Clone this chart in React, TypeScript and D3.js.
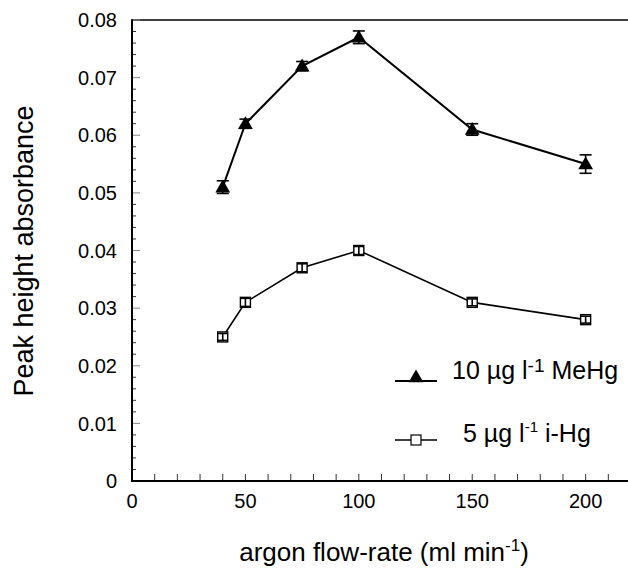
import React from 'react';
import * as d3 from 'd3';

// argon flow-rate (ml/min)
const flowRates = [40, 50, 75, 100, 150, 200];
// 10 ug/l MeHg
const meHg = [0.051, 0.062, 0.072, 0.077, 0.061, 0.055];
const meHgErr = [0.0011, 0.0008, 0.0008, 0.0011, 0.001, 0.0016];
// 5 ug/l i-Hg
const iHg = [0.025, 0.031, 0.037, 0.040, 0.031, 0.028];
const iHgErr = [0.0006, 0.0007, 0.0007, 0.0007, 0.0006, 0.0006];

const xTickLabels = [0, 50, 100, 150, 200];
const yTickLabels = [0, 0.01, 0.02, 0.03, 0.04, 0.05, 0.06, 0.07, 0.08];

const W = 628;
const H = 568;
const margin = { top: 20, right: 0, bottom: 87, left: 132 };
const FONT = '"Liberation Sans", Arial, Helvetica, sans-serif';

export default function App() {
  const x = d3.scaleLinear().domain([0, 220]).range([margin.left, 631]);
  const y = d3.scaleLinear().domain([0, 0.08]).range([H - margin.bottom, margin.top]);

  const line = d3.line<number>()
    .x((_, i) => x(flowRates[i]))
    .y(d => y(d));

  const triangle = d3.symbol().type(d3.symbolTriangle).size(95)()!;

  const xMinor = d3.range(0, 221, 10);
  const yMinor = d3.range(0, 0.0801, 0.002);

  const errBar = (vals: number[], errs: number[], cap: number, key: string) =>
    vals.map((v, i) => {
      const cx = x(flowRates[i]);
      const y1 = y(v + errs[i]);
      const y2 = y(v - errs[i]);
      return (
        <g key={key + i} stroke="#000" strokeWidth={1.6}>
          <line x1={cx} x2={cx} y1={y1} y2={y2} />
          <line x1={cx - cap} x2={cx + cap} y1={y1} y2={y1} />
          <line x1={cx - cap} x2={cx + cap} y1={y2} y2={y2} />
        </g>
      );
    });

  return (
    <svg width={W} height={H} style={{ position: 'absolute', left: 0, top: 0 }} fontFamily={FONT}>
      <rect width={W} height={H} fill="#fff" />

      {/* top frame */}
      <line x1={x(0)} x2={W} y1={y(0.08)} y2={y(0.08)} stroke="#000" strokeWidth={1.5} />

      {/* x ticks */}
      {xMinor.map(t => (
        <line key={'xt' + t} x1={x(t)} x2={x(t)} y1={y(0)} y2={y(0) - 7} stroke="#333" strokeWidth={1} />
      ))}
      {/* y ticks */}
      {yMinor.map((t, i) => (
        <line key={'yt' + i} x1={x(0)} x2={x(0) + (i % 5 === 0 ? 8 : 4)} y1={y(t)} y2={y(t)}
          stroke={i % 5 === 0 ? '#888' : '#333'} strokeWidth={1} />
      ))}

      {/* axes */}
      <line x1={x(0)} x2={W} y1={y(0)} y2={y(0)} stroke="#000" strokeWidth={2} />
      <line x1={x(0)} x2={x(0)} y1={y(0) + 1} y2={y(0.08) - 0.75} stroke="#000" strokeWidth={2} />

      {xTickLabels.map(t => (
        <text key={'xl' + t} x={x(t)} y={508} textAnchor="middle" fontSize={20}>{t}</text>
      ))}
      {yTickLabels.map(t => (
        <text key={'yl' + t} x={117} y={y(t)} dy="0.36em" textAnchor="end" fontSize={20}>{t === 0 ? '0' : t.toFixed(2)}</text>
      ))}

      {/* axis titles */}
      <text x={384} y={561} textAnchor="middle" fontSize={26}>
        argon flow-rate (ml min<tspan dy={-10} fontSize={17}>-1</tspan><tspan dy={10}>)</tspan>
      </text>
      <text transform={`translate(33,251) rotate(-90)`} textAnchor="middle" fontSize={27}>
        Peak height absorbance
      </text>

      {/* series lines */}
      <path d={line(meHg)!} fill="none" stroke="#000" strokeWidth={2} />
      <path d={line(iHg)!} fill="none" stroke="#000" strokeWidth={1.6} />

      {/* MeHg markers */}
      {meHg.map((v, i) => (
        <path key={'tri' + i} d={triangle} transform={`translate(${x(flowRates[i])},${y(v) + 1})`} fill="#000" />
      ))}
      {errBar(meHg, meHgErr, 6, 'em')}

      {/* i-Hg markers */}
      {iHg.map((v, i) => (
        <rect key={'sq' + i} x={x(flowRates[i]) - 5} y={y(v) - 5} width={10} height={10}
          fill="#fff" stroke="#000" strokeWidth={1.4} />
      ))}
      {errBar(iHg, iHgErr, 5, 'ei')}

      {/* legend */}
      <line x1={395} x2={437} y1={381} y2={381} stroke="#000" strokeWidth={2} />
      <path d={triangle} transform="translate(416,378)" fill="#000" />
      <text x={452} y={379} fontSize={25}>
        10 µg l<tspan dy={-7} fontSize={19}>-1</tspan><tspan dy={7}> MeHg</tspan>
      </text>

      <line x1={395} x2={437} y1={440} y2={440} stroke="#000" strokeWidth={1.4} />
      <rect x={411} y={435} width={10} height={10} fill="#fff" stroke="#000" strokeWidth={1.2} />
      <text x={463} y={442} fontSize={25}>
        5 µg l<tspan dy={-10} fontSize={15}>-1</tspan><tspan dy={10}> i-Hg</tspan>
      </text>
    </svg>
  );
}
